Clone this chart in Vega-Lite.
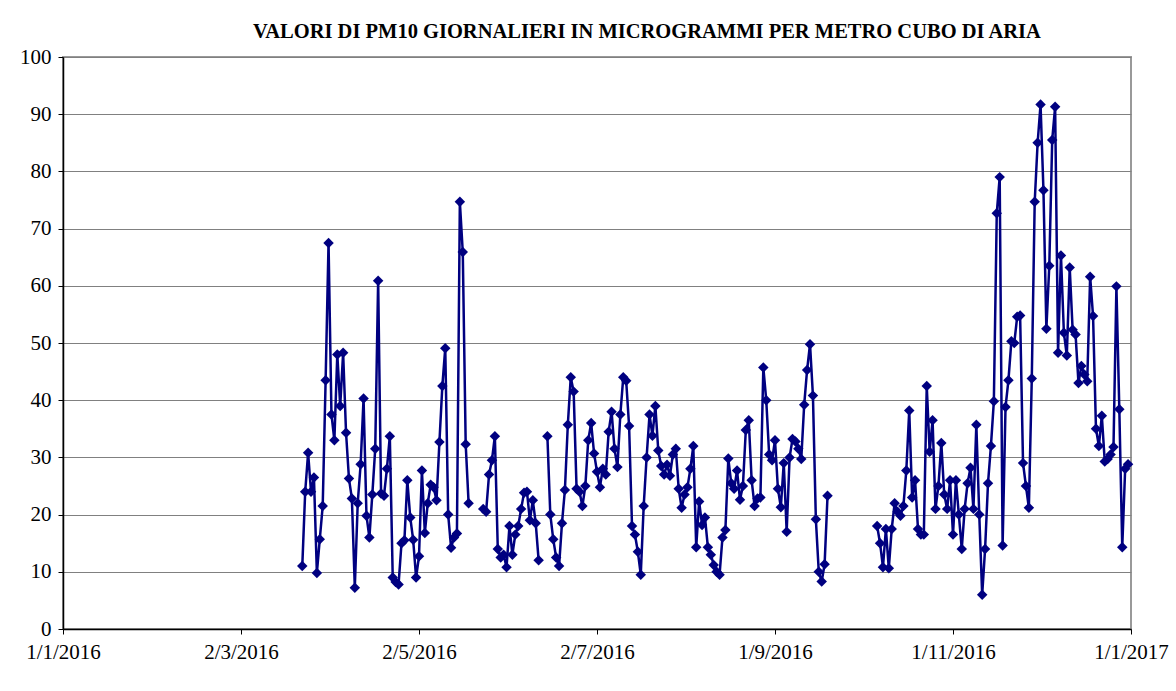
{
"$schema": "https://vega.github.io/schema/vega-lite/v6.json",
"width": 1068, "height": 572,
"autosize": {"type": "none"},
"padding": {"left": 63, "top": 57, "right": 45, "bottom": 62},
"background": "white",
"title": {"text": "VALORI DI PM10 GIORNALIERI IN MICROGRAMMI PER METRO CUBO DI ARIA", "font": "Liberation Serif", "fontSize": 20.5, "fontWeight": "bold", "color": "black", "anchor": "middle", "dx": 50, "offset": 4},
"config": {"view": {"stroke": "#999999", "strokeWidth": 2}, "font": "Liberation Serif"},
"data": {"values": [
{"d":"2016-03-23","v":11},{"d":"2016-03-24","v":24},{"d":"2016-03-25","v":30.8},{"d":"2016-03-26","v":24},{"d":"2016-03-27","v":26.5},{"d":"2016-03-28","v":9.8},{"d":"2016-03-29","v":15.7},{"d":"2016-03-30","v":21.5},{"d":"2016-03-31","v":43.5},
{"d":"2016-04-01","v":67.5},{"d":"2016-04-02","v":37.5},{"d":"2016-04-03","v":33},{"d":"2016-04-04","v":48},{"d":"2016-04-05","v":39},{"d":"2016-04-06","v":48.3},{"d":"2016-04-07","v":34.3},{"d":"2016-04-08","v":26.3},{"d":"2016-04-09","v":22.8},{"d":"2016-04-10","v":7.2},
{"d":"2016-04-11","v":22},{"d":"2016-04-12","v":28.8},{"d":"2016-04-13","v":40.3},{"d":"2016-04-14","v":19.8},{"d":"2016-04-15","v":16},{"d":"2016-04-16","v":23.5},{"d":"2016-04-17","v":31.5},{"d":"2016-04-18","v":60.9},{"d":"2016-04-19","v":23.7},{"d":"2016-04-20","v":23.3},
{"d":"2016-04-21","v":28},{"d":"2016-04-22","v":33.7},{"d":"2016-04-23","v":9},{"d":"2016-04-24","v":8.2},{"d":"2016-04-25","v":7.8},{"d":"2016-04-26","v":15},{"d":"2016-04-27","v":15.5},{"d":"2016-04-28","v":26},{"d":"2016-04-29","v":19.5},{"d":"2016-04-30","v":15.6},
{"d":"2016-05-01","v":9},{"d":"2016-05-02","v":12.7},{"d":"2016-05-03","v":27.7},{"d":"2016-05-04","v":16.8},{"d":"2016-05-05","v":22},{"d":"2016-05-06","v":25.2},{"d":"2016-05-07","v":24.8},{"d":"2016-05-08","v":22.5},{"d":"2016-05-09","v":32.7},{"d":"2016-05-10","v":42.5},
{"d":"2016-05-11","v":49.1},{"d":"2016-05-12","v":20},{"d":"2016-05-13","v":14.2},{"d":"2016-05-14","v":16},{"d":"2016-05-15","v":16.7},{"d":"2016-05-16","v":74.7},{"d":"2016-05-17","v":65.9},{"d":"2016-05-18","v":32.3},{"d":"2016-05-19","v":22},
{"d":"2016-05-20","v":null},
{"d":"2016-05-24","v":21},{"d":"2016-05-25","v":20.5},{"d":"2016-05-26","v":27},{"d":"2016-05-27","v":29.5},{"d":"2016-05-28","v":33.7},{"d":"2016-05-29","v":14},{"d":"2016-05-30","v":12.5},{"d":"2016-05-31","v":13},
{"d":"2016-06-01","v":10.8},{"d":"2016-06-02","v":18},{"d":"2016-06-03","v":13},{"d":"2016-06-04","v":16.5},{"d":"2016-06-05","v":18},{"d":"2016-06-06","v":21},{"d":"2016-06-07","v":23.8},{"d":"2016-06-08","v":24},{"d":"2016-06-09","v":19},{"d":"2016-06-10","v":22.5},{"d":"2016-06-11","v":18.5},{"d":"2016-06-12","v":12},
{"d":"2016-06-13","v":null},
{"d":"2016-06-15","v":33.7},{"d":"2016-06-16","v":20},{"d":"2016-06-17","v":15.7},{"d":"2016-06-18","v":12.5},{"d":"2016-06-19","v":11},{"d":"2016-06-20","v":18.5},{"d":"2016-06-21","v":24.3},{"d":"2016-06-22","v":35.7},{"d":"2016-06-23","v":44},{"d":"2016-06-24","v":41.5},
{"d":"2016-06-25","v":24.5},{"d":"2016-06-26","v":24},{"d":"2016-06-27","v":21.5},{"d":"2016-06-28","v":25},{"d":"2016-06-29","v":33},{"d":"2016-06-30","v":36},
{"d":"2016-07-01","v":30.7},{"d":"2016-07-02","v":27.5},{"d":"2016-07-03","v":24.8},{"d":"2016-07-04","v":28},{"d":"2016-07-05","v":27},{"d":"2016-07-06","v":34.5},{"d":"2016-07-07","v":38},{"d":"2016-07-08","v":31.5},{"d":"2016-07-09","v":28.3},{"d":"2016-07-10","v":37.5},
{"d":"2016-07-11","v":44},{"d":"2016-07-12","v":43.4},{"d":"2016-07-13","v":35.5},{"d":"2016-07-14","v":18},{"d":"2016-07-15","v":16.5},{"d":"2016-07-16","v":13.5},{"d":"2016-07-17","v":9.5},{"d":"2016-07-18","v":21.5},{"d":"2016-07-19","v":30},{"d":"2016-07-20","v":37.5},
{"d":"2016-07-21","v":33.8},{"d":"2016-07-22","v":39},{"d":"2016-07-23","v":31.2},{"d":"2016-07-24","v":28.5},{"d":"2016-07-25","v":27},{"d":"2016-07-26","v":28.7},{"d":"2016-07-27","v":26.8},{"d":"2016-07-28","v":30.5},{"d":"2016-07-29","v":31.5},{"d":"2016-07-30","v":24.5},{"d":"2016-07-31","v":21.2},
{"d":"2016-08-01","v":23.5},{"d":"2016-08-02","v":24.8},{"d":"2016-08-03","v":28},{"d":"2016-08-04","v":32},{"d":"2016-08-05","v":14.3},{"d":"2016-08-06","v":22.3},{"d":"2016-08-07","v":18.2},{"d":"2016-08-08","v":19.5},{"d":"2016-08-09","v":14.3},{"d":"2016-08-10","v":13},
{"d":"2016-08-11","v":11.2},{"d":"2016-08-12","v":10},{"d":"2016-08-13","v":9.5},{"d":"2016-08-14","v":16},{"d":"2016-08-15","v":17.3},{"d":"2016-08-16","v":29.8},{"d":"2016-08-17","v":25.5},{"d":"2016-08-18","v":24.5},{"d":"2016-08-19","v":27.7},{"d":"2016-08-20","v":22.6},
{"d":"2016-08-21","v":25},{"d":"2016-08-22","v":34.8},{"d":"2016-08-23","v":36.5},{"d":"2016-08-24","v":26},{"d":"2016-08-25","v":21.5},{"d":"2016-08-26","v":22.8},{"d":"2016-08-27","v":23},{"d":"2016-08-28","v":45.7},{"d":"2016-08-29","v":40},{"d":"2016-08-30","v":30.5},{"d":"2016-08-31","v":29.5},
{"d":"2016-09-01","v":33},{"d":"2016-09-02","v":24.5},{"d":"2016-09-03","v":21.3},{"d":"2016-09-04","v":29},{"d":"2016-09-05","v":17},{"d":"2016-09-06","v":30},{"d":"2016-09-07","v":33.2},{"d":"2016-09-08","v":32.8},{"d":"2016-09-09","v":31.5},{"d":"2016-09-10","v":29.7},
{"d":"2016-09-11","v":39.2},{"d":"2016-09-12","v":45.3},{"d":"2016-09-13","v":49.8},{"d":"2016-09-14","v":40.8},{"d":"2016-09-15","v":19.2},{"d":"2016-09-16","v":10},{"d":"2016-09-17","v":8.3},{"d":"2016-09-18","v":11.3},{"d":"2016-09-19","v":23.3},
{"d":"2016-09-20","v":null},
{"d":"2016-10-06","v":18},{"d":"2016-10-07","v":15},{"d":"2016-10-08","v":10.8},{"d":"2016-10-09","v":17.5},{"d":"2016-10-10","v":10.6},{"d":"2016-10-11","v":17.5},{"d":"2016-10-12","v":22},{"d":"2016-10-13","v":20.5},{"d":"2016-10-14","v":19.8},{"d":"2016-10-15","v":21.5},
{"d":"2016-10-16","v":27.7},{"d":"2016-10-17","v":38.2},{"d":"2016-10-18","v":23},{"d":"2016-10-19","v":26},{"d":"2016-10-20","v":17.5},{"d":"2016-10-21","v":16.5},{"d":"2016-10-22","v":16.5},{"d":"2016-10-23","v":42.5},{"d":"2016-10-24","v":31},{"d":"2016-10-25","v":36.5},
{"d":"2016-10-26","v":21},{"d":"2016-10-27","v":25},{"d":"2016-10-28","v":32.5},{"d":"2016-10-29","v":23.5},{"d":"2016-10-30","v":21},{"d":"2016-10-31","v":26},
{"d":"2016-11-01","v":16.5},{"d":"2016-11-02","v":26},{"d":"2016-11-03","v":20},{"d":"2016-11-04","v":14},{"d":"2016-11-05","v":21},{"d":"2016-11-06","v":25.5},{"d":"2016-11-07","v":28.2},{"d":"2016-11-08","v":21},{"d":"2016-11-09","v":35.7},{"d":"2016-11-10","v":20},
{"d":"2016-11-11","v":6},{"d":"2016-11-12","v":14},{"d":"2016-11-13","v":25.5},{"d":"2016-11-14","v":32},{"d":"2016-11-15","v":39.8},{"d":"2016-11-16","v":72.7},{"d":"2016-11-17","v":79},{"d":"2016-11-18","v":14.6},{"d":"2016-11-19","v":38.8},{"d":"2016-11-20","v":43.5},
{"d":"2016-11-21","v":50.3},{"d":"2016-11-22","v":50},{"d":"2016-11-23","v":54.6},{"d":"2016-11-24","v":54.8},{"d":"2016-11-25","v":29},{"d":"2016-11-26","v":25},{"d":"2016-11-27","v":21.2},{"d":"2016-11-28","v":43.8},{"d":"2016-11-29","v":74.7},{"d":"2016-11-30","v":85},
{"d":"2016-12-01","v":91.7},{"d":"2016-12-02","v":76.7},{"d":"2016-12-03","v":52.5},{"d":"2016-12-04","v":63.5},{"d":"2016-12-05","v":85.5},{"d":"2016-12-06","v":91.3},{"d":"2016-12-07","v":48.3},{"d":"2016-12-08","v":65.3},{"d":"2016-12-09","v":51.8},{"d":"2016-12-10","v":47.8},
{"d":"2016-12-11","v":63.2},{"d":"2016-12-12","v":52.3},{"d":"2016-12-13","v":51.5},{"d":"2016-12-14","v":43},{"d":"2016-12-15","v":46},{"d":"2016-12-16","v":44.5},{"d":"2016-12-17","v":43.3},{"d":"2016-12-18","v":61.6},{"d":"2016-12-19","v":54.7},{"d":"2016-12-20","v":35},
{"d":"2016-12-21","v":32},{"d":"2016-12-22","v":37.3},{"d":"2016-12-23","v":29.3},{"d":"2016-12-24","v":29.7},{"d":"2016-12-25","v":30.5},{"d":"2016-12-26","v":31.8},{"d":"2016-12-27","v":59.9},{"d":"2016-12-28","v":38.4},{"d":"2016-12-29","v":14.3},{"d":"2016-12-30","v":28},{"d":"2016-12-31","v":28.8}
]},
"encoding": {
"x": {"field": "d", "type": "temporal",
 "scale": {"type": "utc", "domain": [{"year":2016,"month":1,"date":1,"utc":true},{"year":2017,"month":1,"date":1,"utc":true}]},
 "axis": {"title": null, "grid": false,
  "values": [{"year":2016,"month":1,"date":1,"utc":true},{"year":2016,"month":3,"date":2,"utc":true},{"year":2016,"month":5,"date":2,"utc":true},{"year":2016,"month":7,"date":2,"utc":true},{"year":2016,"month":9,"date":1,"utc":true},{"year":2016,"month":11,"date":1,"utc":true},{"year":2017,"month":1,"date":1,"utc":true}],
  "labelExpr": "utcFormat(datum.value, '%-d/%-m/%Y')",
  "domainColor": "black", "domainWidth": 1.5, "tickColor": "black", "tickSize": 5,
  "labelFont": "Liberation Serif", "labelFontSize": 21, "labelColor": "black", "labelPadding": 7,
  "labelOverlap": false, "labelFlush": false}},
"y": {"field": "v", "type": "quantitative",
 "scale": {"domain": [0, 100], "nice": false},
 "axis": {"title": null, "values": [0,10,20,30,40,50,60,70,80,90,100], "grid": true, "gridColor": "#808080", "gridWidth": 1,
  "domainColor": "black", "domainWidth": 1.5, "tickColor": "black", "tickSize": 5,
  "labelFont": "Liberation Serif", "labelFontSize": 21, "labelColor": "black", "labelPadding": 7}}
},
"layer": [
 {"mark": {"type": "line", "color": "#000080", "strokeWidth": 2.5, "invalid": "break-paths-show-domains"}},
 {"mark": {"type": "point", "shape": "diamond", "filled": true, "color": "#000080", "size": 110, "opacity": 1}}
]
}
